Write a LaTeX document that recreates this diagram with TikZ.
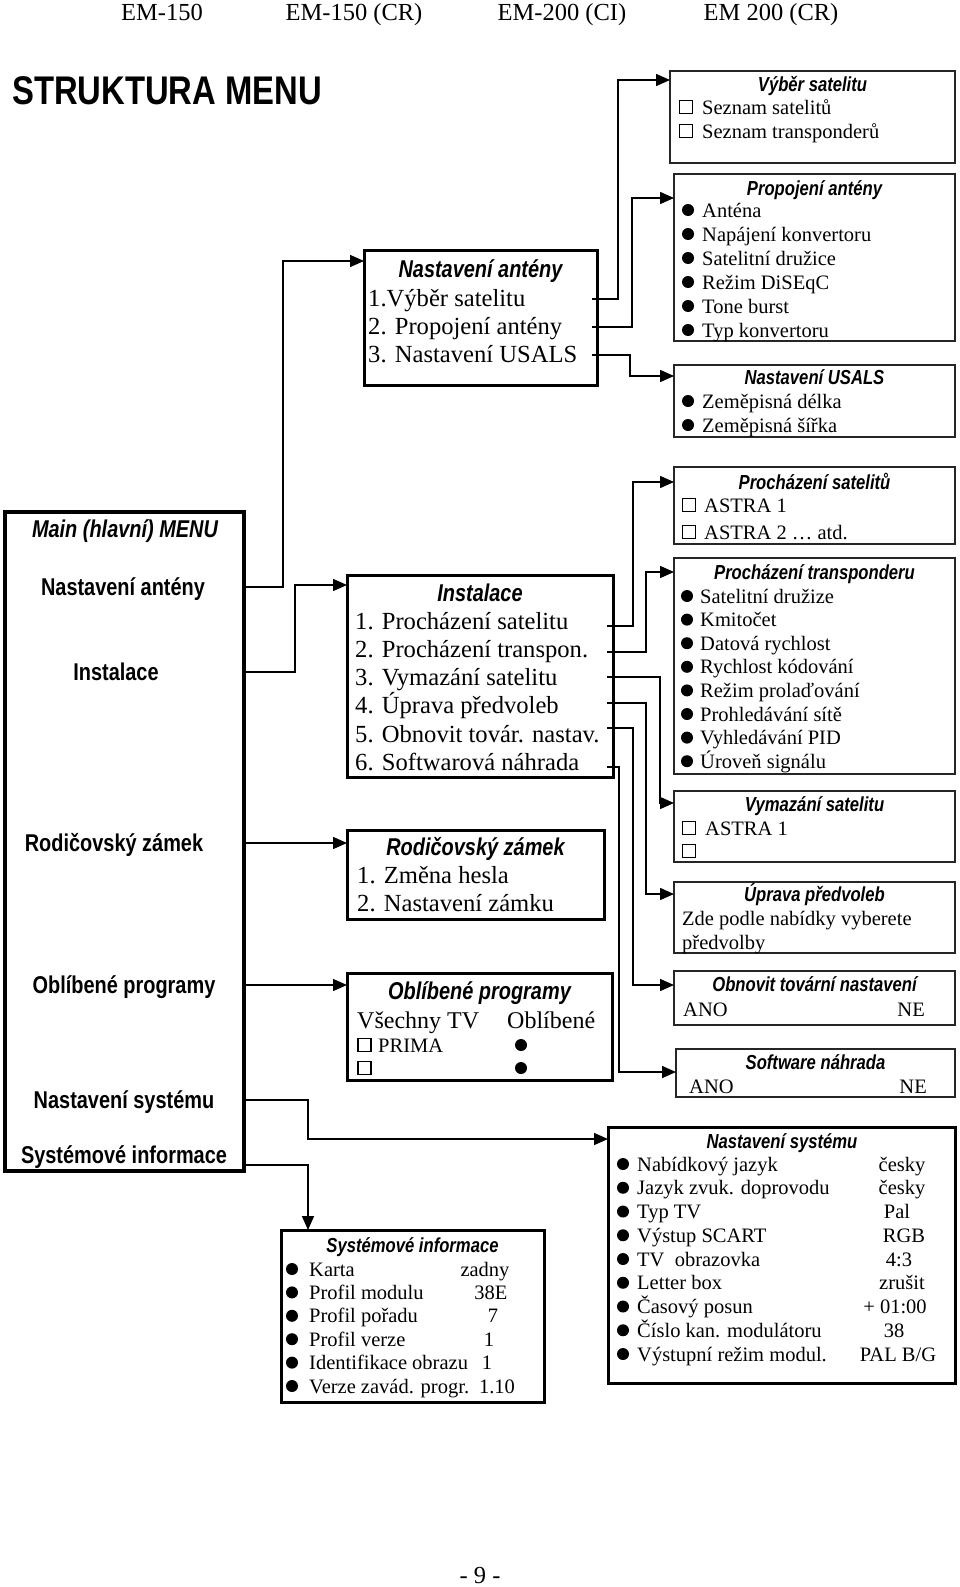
\documentclass[tikz,border=0pt]{standalone}
\usepackage{fontspec}
\setmainfont{Liberation Serif}
\newfontfamily\arialn{Liberation Sans}[FakeStretch=0.82]
\usetikzlibrary{arrows.meta}
\begin{document}
\begin{tikzpicture}[x=1pt,y=-1pt,
 rbox/.style={draw=black!85, line width=1.6pt, anchor=north west, inner sep=0pt, outer sep=0pt},
 mbox/.style={rbox, draw=black, line width=3pt},
 mainbox/.style={rbox, draw=black, line width=4pt},
 hdr/.style={font=\fontsize{24.5}{28}\selectfont, anchor=base, inner sep=0pt},
 bigtit/.style={font=\arialn\bfseries\fontsize{40}{44}\selectfont, anchor=base west, inner sep=0pt},
 rtit/.style={font=\arialn\bfseries\itshape\fontsize{20.3}{24}\selectfont, anchor=base, yshift=-7pt, inner sep=0pt},
 mtit/.style={font=\arialn\bfseries\itshape\fontsize{24.3}{28}\selectfont, anchor=base, yshift=-8.5pt, inner sep=0pt},
 mlab/.style={font=\arialn\bfseries\fontsize{24.3}{28}\selectfont, anchor=base, yshift=-8.5pt, inner sep=0pt},
 mtxt/.style={font=\fontsize{24.6}{28}\selectfont, anchor=base west, yshift=-8pt, inner sep=0pt},
 rtxt/.style={font=\fontsize{20.5}{24}\selectfont, anchor=base west, yshift=-7pt, inner sep=0pt},
 rval/.style={rtxt, anchor=base},
 rvale/.style={rtxt, anchor=base east},
 bul/.style={circle, fill, inner sep=0pt, minimum size=12pt},
 sqr/.style={draw, line width=1.4pt, inner sep=0pt, minimum size=12.5pt},
 arr/.style={line width=1.5pt, -{Triangle[length=14pt,width=12pt]}}]
\useasboundingbox (0,0) rectangle (960,1587);

% header
\node[hdr] (h1) at (162,21) {EM-150};
\node[hdr] (h2) at (354,21) {EM-150 (CR)};
\node[hdr] (h3) at (562,21) {EM-200 (CI)};
\node[hdr] (h4) at (771,21) {EM 200 (CR)};
\node[bigtit] (stm) at (12,104) {STRUKTURA MENU};
\node[hdr] (pg) at (480,1583) {- 9 -};

% boxes
\node[rbox, minimum width=285pt, minimum height=92pt] (vs) at (670,71) {};
\node[rbox, minimum width=281pt, minimum height=167pt] (pa) at (674,174) {};
\node[rbox, minimum width=281pt, minimum height=72pt] (nu) at (674,365) {};
\node[mbox, minimum width=233pt, minimum height=135pt] (na) at (364,250) {};
\node[mainbox, minimum width=239pt, minimum height=659pt] (main) at (5,512) {};
\node[rbox, minimum width=281pt, minimum height=77pt] (ps) at (674,467) {};
\node[rbox, minimum width=281pt, minimum height=216pt] (pt) at (674,558) {};
\node[mbox, minimum width=266pt, minimum height=202pt] (in) at (347,575) {};
\node[rbox, minimum width=281pt, minimum height=71pt] (vy) at (674,791) {};
\node[mbox, minimum width=257pt, minimum height=89pt] (rz) at (347,830) {};
\node[rbox, minimum width=281pt, minimum height=71pt] (up) at (674,882) {};
\node[rbox, minimum width=281pt, minimum height=54pt] (on) at (674,971) {};
\node[mbox, minimum width=265pt, minimum height=107pt] (ob) at (347,973) {};
\node[rbox, minimum width=279pt, minimum height=48pt] (sn) at (676,1049) {};
\node[mbox, minimum width=347pt, minimum height=256pt] (ns) at (608,1127) {};
\node[mbox, minimum width=263pt, minimum height=172pt] (si) at (281,1230) {};

% main menu labels
\node[mtit] (m0) at (125,529) {Main (hlavní) MENU};
\node[mlab] (m1) at (123,587) {Nastavení antény};
\node[mlab] (m2) at (116,672) {Instalace};
\node[mlab] (m3) at (114,843) {Rodičovský zámek};
\node[mlab] (m4) at (124,985) {Oblíbené programy};
\node[mlab] (m5) at (124,1100) {Nastavení systému};
\node[mlab] (m6) at (124,1155) {Systémové informace};

% Nastaveni anteny (middle)
\node[mtit] (na-t) at (480.5,269) {Nastavení antény};
\node[mtxt] (na-1) at (368,298) {1.Výběr satelitu};
\node[mtxt] (na-2) at (368,326) {2. Propojení antény};
\node[mtxt] (na-3) at (368,354) {3. Nastavení USALS};

% Vyber satelitu
\node[rtit] (vs-t) at (812.5,84) {Výběr satelitu};
\node[sqr] (vs-q1) at (686,107) {};
\node[rtxt] (vs-1) at (702,107) {Seznam satelitů};
\node[sqr] (vs-q2) at (686,131) {};
\node[rtxt] (vs-2) at (702,131) {Seznam transponderů};

% Propojeni anteny
\node[rtit] (pa-t) at (814.5,188) {Propojení antény};
\foreach \t [count=\i from 0] in {Anténa, Napájení konvertoru, Satelitní družice, Režim DiSEqC, Tone burst, Typ konvertoru} {
  \node[bul] (pa-b\i) at (688,{210+24*\i}) {};
  \node[rtxt] (pa-\i) at (702,{210+24*\i}) {\t};
}

% Nastaveni USALS
\node[rtit] (nu-t) at (814.5,377) {Nastavení USALS};
\foreach \t [count=\i from 0] in {Zeměpisná délka, Zeměpisná šířka} {
  \node[bul] (nu-b\i) at (688,{401+24*\i}) {};
  \node[rtxt] (nu-\i) at (702,{401+24*\i}) {\t};
}

% Prochazeni satelitu
\node[rtit] (ps-t) at (814.5,482) {Procházení satelitů};
\node[sqr] (ps-q1) at (689,505) {};
\node[rtxt] (ps-1) at (704,505) {ASTRA 1};
\node[sqr] (ps-q2) at (689,532) {};
\node[rtxt] (ps-2) at (704,532) {ASTRA 2 … atd.};

% Prochazeni transponderu
\node[rtit] (pt-t) at (814.5,572) {Procházení transponderu};
\foreach \t [count=\i from 0] in {Satelitní družize, Kmitočet, Datová rychlost, Rychlost kódování, Režim prolaďování, Prohledávání sítě, Vyhledávání PID, Úroveň signálu} {
  \node[bul] (pt-b\i) at (687,{596+23.6*\i}) {};
  \node[rtxt] (pt-\i) at (700,{596+23.6*\i}) {\t};
}

% Instalace
\node[mtit] (in-t) at (480,593) {Instalace};
\foreach \t [count=\i from 0] in {1. Procházení satelitu, 2. Procházení transpon., 3. Vymazání satelitu, 4. Úprava předvoleb, 5. Obnovit továr. nastav., 6. Softwarová náhrada} {
  \node[mtxt] (in-\i) at (355,{621+28.3*\i}) {\t};
}

% Vymazani satelitu
\node[rtit] (vy-t) at (814.5,804) {Vymazání satelitu};
\node[sqr] (vy-q1) at (689,828) {};
\node[rtxt] (vy-1) at (705,828) {ASTRA 1};
\node[sqr] (vy-q2) at (689,851) {};

% Rodicovsky zamek
\node[mtit] (rz-t) at (475.5,847) {Rodičovský zámek};
\node[mtxt] (rz-1) at (357,875) {1. Změna hesla};
\node[mtxt] (rz-2) at (357,903) {2. Nastavení zámku};

% Uprava predvoleb
\node[rtit] (up-t) at (814.5,894) {Úprava předvoleb};
\node[rtxt] (up-1) at (682,918) {Zde podle nabídky vyberete};
\node[rtxt] (up-2) at (682,942) {předvolby};

% Obnovit
\node[rtit] (on-t) at (814.5,984) {Obnovit tovární nastavení};
\node[rtxt] (on-a) at (683,1009) {ANO};
\node[rvale] (on-n) at (925,1009) {NE};

% Oblibene programy
\node[mtit] (ob-t) at (479.5,991) {Oblíbené programy};
\node[mtxt, font=\fontsize{24}{28}\selectfont] (ob-1) at (357,1020) {Všechny TV};
\node[mtxt, font=\fontsize{24}{28}\selectfont] (ob-2) at (507,1020) {Oblíbené};
\node[sqr, minimum size=13pt] (ob-q1) at (364.5,1045) {};
\node[rtxt] (ob-p) at (378,1045) {PRIMA};
\node[bul] (ob-b1) at (521,1045) {};
\node[sqr, minimum size=13pt] (ob-q2) at (364.5,1068) {};
\node[bul] (ob-b2) at (521,1068) {};

% Software nahrada
\node[rtit] (sn-t) at (815.5,1062) {Software náhrada};
\node[rtxt] (sn-a) at (689,1086) {ANO};
\node[rvale] (sn-n) at (927,1086) {NE};

% Nastaveni systemu
\node[rtit] (ns-t) at (782,1141) {Nastavení systému};
\foreach \t/\v/\x [count=\i from 0] in {Nabídkový jazyk/česky/902, Jazyk zvuk. doprovodu/česky/902, Typ TV/Pal/897, Výstup SCART/RGB/904, TV\ \ obrazovka/4:3/899, Letter box/zrušit/902, Časový posun/+ 01:00/895, Číslo kan. modulátoru/38/894, Výstupní režim modul./{PAL B/G}/898} {
  \node[bul] (ns-b\i) at (623,{1164+23.75*\i}) {};
  \node[rtxt] (ns-\i) at (637,{1164+23.75*\i}) {\t};
  \node[rval] (ns-v\i) at (\x,{1164+23.75*\i}) {\v};
}

% Systemove informace
\node[rtit] (si-t) at (412.5,1245) {Systémové informace};
\foreach \t/\v/\x [count=\i from 0] in {Karta/zadny/485, Profil modulu/38E/491, Profil pořadu/7/493, Profil verze/1/489, Identifikace obrazu/1/487, Verze zavád. progr./1.10/497} {
  \node[bul] (si-b\i) at (292,{1269+23.4*\i}) {};
  \node[rtxt] (si-\i) at (309,{1269+23.4*\i}) {\t};
  \node[rval] (si-v\i) at (\x,{1269+23.4*\i}) {\v};
}

% connectors from main menu
\draw[arr] (main.east |- 0,587) -| (283,261) -- (na.west |- 0,261);
\draw[arr] (main.east |- 0,672) -| (295,585) -- (in.west |- 0,585);
\draw[arr] (main.east |- 0,843) -- (rz.west |- 0,843);
\draw[arr] (main.east |- 0,985) -- (ob.west |- 0,985);
\draw[arr] (main.east |- 0,1100) -| (308,1139) -- (ns.west |- 0,1139);
\draw[arr] (main.east |- 0,1165) -| (si.north -| 308,0);

% connectors from Nastaveni anteny
\coordinate (na-s1) at (592,299);
\coordinate (na-s2) at (592,327);
\coordinate (na-s3) at (592,355);
\draw[arr] (na-s1) -| (618,80) -- (vs.west |- 0,80);
\draw[arr] (na-s2) -| (632,198) -- (pa.west |- 0,198);
\draw[arr] (na-s3) -| (630,376) -- (nu.west |- 0,376);

% connectors from Instalace
\coordinate (in-s1) at (607,626);
\coordinate (in-s2) at (607,652);
\coordinate (in-s3) at (607,677);
\coordinate (in-s4) at (607,703);
\coordinate (in-s5) at (607,728);
\coordinate (in-s6) at (607,767);
\draw[arr] (in-s1) -| (633,482) -- (ps.west |- 0,482);
\draw[arr] (in-s2) -| (646,572) -- (pt.west |- 0,572);
\draw[arr] (in-s3) -| (660,803) -- (vy.west |- 0,803);
\draw[arr] (in-s4) -| (646,894) -- (up.west |- 0,894);
\draw[arr] (in-s5) -| (633,985) -- (on.west |- 0,985);
\draw[arr] (in-s6) -| (619,1072) -- (sn.west |- 0,1072);
\end{tikzpicture}
\end{document}
